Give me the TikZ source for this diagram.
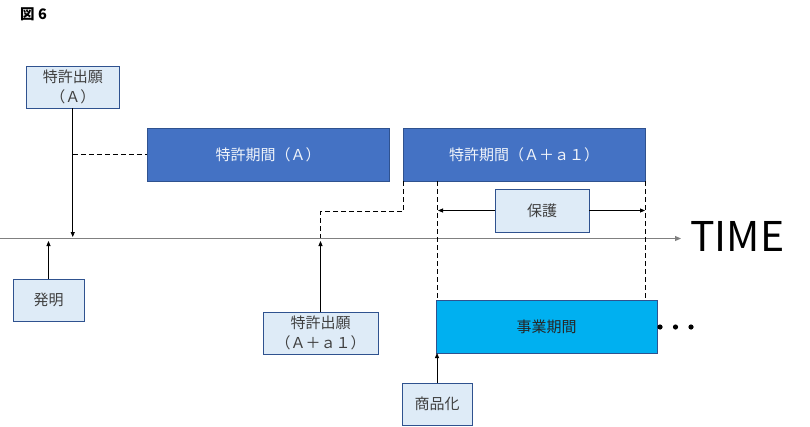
\documentclass[tikz,border=0pt]{standalone}
\usepackage{fontspec}
\newfontfamily\jp{Noto Sans CJK JP}
\usetikzlibrary{arrows.meta}
\definecolor{lightbox}{HTML}{DEEBF7}
\definecolor{darkbox}{HTML}{4472C4}
\definecolor{cyanbox}{HTML}{00B0F0}
\definecolor{edge}{HTML}{2F528F}
\definecolor{txt}{HTML}{404040}
\tikzset{
  lbox/.style={draw=edge, line width=0.9pt, fill=lightbox, text=txt, inner sep=0pt, align=center, font=\jp\fontsize{15}{20}\selectfont},
  dbox/.style={draw=edge, line width=0.9pt, fill=darkbox, text=white!92!darkbox, inner sep=0pt, align=center, font=\jp\fontsize{15}{20}\selectfont},
  cbox/.style={draw=edge, line width=0.9pt, fill=cyanbox, text=black!85, inner sep=0pt, align=center, font=\jp\fontsize{15}{20}\selectfont},
  conn/.style={draw=black, line width=0.8pt, -{Triangle[length=5pt,width=4pt]}},
  dashline/.style={draw=black, line width=1pt, dash pattern=on 5pt off 3pt},
  axisline/.style={draw=black!50, line width=0.9pt, -{Triangle[length=6pt,width=5pt]}}
}
\begin{document}
\begin{tikzpicture}[x=1pt,y=-1pt]
\useasboundingbox (0,0) rectangle (810,426);
% title
\node[font=\jp\bfseries\fontsize{14.5}{16}\selectfont, anchor=west, inner sep=0pt] (title) at (20,14) {図 6};
% axis
\coordinate (ax0) at (0,238.5);
\coordinate (ax1) at (681,238.5);
\draw[axisline] (ax0) -- (ax1);
\node[font=\jp\fontsize{41}{45}\selectfont, anchor=west, inner sep=0pt, text=black] (time) at (690,236) {TIME};
% boxes
\node[lbox, minimum width=92.5pt, minimum height=42pt] (pa) at (72.75,87) {特許出願\\（Ａ）};
\node[dbox, minimum width=242pt, minimum height=53pt] (ka) at (268,154.5) {特許期間（Ａ）};
\node[dbox, minimum width=242pt, minimum height=53pt] (ka1) at (524,154.5) {特許期間（Ａ＋ａ１）};
\node[lbox, minimum width=94pt, minimum height=43pt] (hogo) at (542,210.5) {保護};
\node[lbox, minimum width=71pt, minimum height=42pt] (hatsu) at (48.5,300) {発明};
\node[lbox, minimum width=115pt, minimum height=42pt] (pa1) at (320.5,333) {特許出願\\（Ａ＋ａ１）};
\node[cbox, minimum width=221pt, minimum height=53pt] (jigyo) at (546.5,326.5) {事業期間};
\node[lbox, minimum width=70pt, minimum height=42pt] (shohin) at (437,404) {商品化};
% dots
\foreach \i/\x in {1/660,2/675.5,3/691}{
  \fill[black] (\x,327) circle (2.6pt);
}
% coordinates
\coordinate (t1) at (72.75,237);
\coordinate (d1) at (72.75,154.5);
\coordinate (t2) at (48.5,241);
\coordinate (t3) at (320.5,241);
\coordinate (c1) at (403.5,211.5);
\coordinate (c2) at (320.5,211.5);
\coordinate (c3) at (320.5,238);
\coordinate (c0) at (403.5,181);
\coordinate (k1) at (437.5,181);
\coordinate (k2) at (437.5,300);
\coordinate (k0) at (645.5,181);
\coordinate (k3) at (645.5,300);
\coordinate (h1) at (438,210.5);
\coordinate (h2) at (645,210.5);
\coordinate (s1) at (437,353);
% connectors
\draw[conn] (pa.south) -- (t1);
\draw[dashline] (d1) -- (ka.west);
\draw[conn] (hatsu.north) -- (t2);
\draw[conn] (pa1.north) -- (t3);
\draw[dashline] (c0) -- (c1) -- (c2) -- (c3);
\draw[dashline] (k1) -- (k2);
\draw[dashline] (k0) -- (k3);
\draw[conn] (hogo.west) -- (h1);
\draw[conn] (hogo.east) -- (h2);
\draw[conn] (shohin.north) -- (s1);
\end{tikzpicture}
\end{document}
